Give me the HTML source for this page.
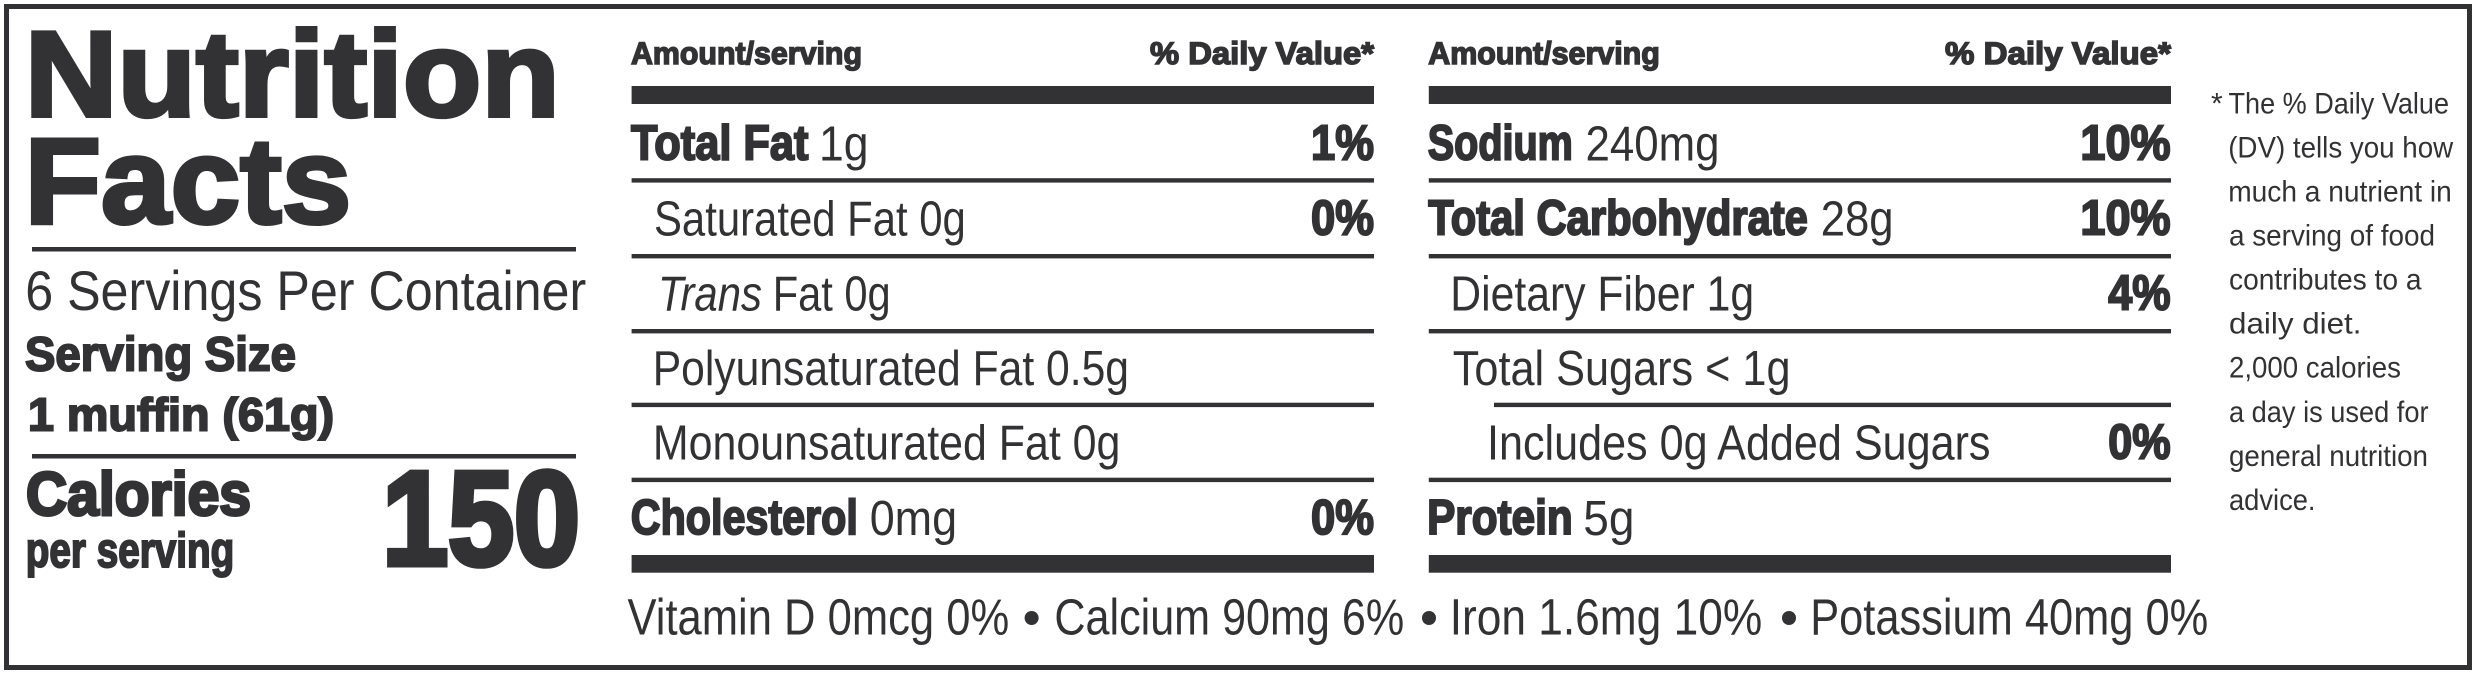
<!DOCTYPE html>
<html>
<head>
<meta charset="utf-8">
<style>
  html, body { margin:0; padding:0; background:#ffffff; }
  body { width:2477px; height:675px; overflow:hidden; }
  svg { display:block; }
  text { font-family:"Liberation Sans", Arial, sans-serif; fill:#323234; white-space:pre; }
  .b { font-weight:bold; stroke:#323234; stroke-width:2; stroke-linejoin:miter; }
  .i { font-style:italic; }
</style>
</head>
<body>
<svg width="2477" height="675" viewBox="0 0 2477 675" xmlns="http://www.w3.org/2000/svg">
  <!-- outer border -->
  <rect x="6.5" y="6.5" width="2463" height="661" fill="none" stroke="#323234" stroke-width="5"/>

  <!-- LEFT PANEL -->
  <text class="b" style="stroke-width:4" x="24.8" y="116" font-size="121.5" textLength="535" lengthAdjust="spacingAndGlyphs">Nutrition</text>
  <text class="b" style="stroke-width:4" x="24.7" y="223" font-size="121.5" textLength="326.6" lengthAdjust="spacingAndGlyphs">Facts</text>
  <rect x="32" y="247" width="544" height="4.5" fill="#323234"/>
  <text x="25.2" y="310" font-size="56" textLength="561" lengthAdjust="spacingAndGlyphs">6 Servings Per Container</text>
  <text class="b" x="25" y="370.7" font-size="48.5" textLength="271" lengthAdjust="spacingAndGlyphs">Serving Size</text>
  <text class="b" x="28" y="430.7" font-size="46" textLength="306" lengthAdjust="spacingAndGlyphs">1 muffin (61g)</text>
  <rect x="32" y="454" width="544" height="4.5" fill="#323234"/>
  <text class="b" style="stroke-width:3" x="26" y="515" font-size="61" textLength="225" lengthAdjust="spacingAndGlyphs">Calories</text>
  <text class="b" x="25.8" y="567" font-size="49" textLength="208.5" lengthAdjust="spacingAndGlyphs">per serving</text>
  <text class="b" style="stroke-width:6" x="382.3" y="564.5" font-size="133.6" textLength="197.6" lengthAdjust="spacingAndGlyphs">150</text>

  <!-- MIDDLE COLUMN -->
  <text class="b" style="stroke-width:1.5" x="631" y="64" font-size="31.7" textLength="231" lengthAdjust="spacingAndGlyphs">Amount/serving</text>
  <text class="b" style="stroke-width:1.5" x="1150" y="64" font-size="31.7" textLength="224" lengthAdjust="spacingAndGlyphs">% Daily Value*</text>
  <rect x="631.6" y="86" width="742.4" height="18" fill="#323234"/>

  <text class="b" x="631" y="159.5" font-size="49" textLength="177.5" lengthAdjust="spacingAndGlyphs">Total Fat</text>
  <text x="819" y="160.5" font-size="49" textLength="49.5" lengthAdjust="spacingAndGlyphs">1g</text>
  <text class="b" x="1311" y="159.5" font-size="49" textLength="63" lengthAdjust="spacingAndGlyphs">1%</text>
  <rect x="631.6" y="178.2" width="742.4" height="4.4" fill="#323234"/>

  <text x="654" y="235.5" font-size="49" textLength="311.8" lengthAdjust="spacingAndGlyphs">Saturated Fat 0g</text>
  <text class="b" x="1311" y="234.5" font-size="49" textLength="63" lengthAdjust="spacingAndGlyphs">0%</text>
  <rect x="631.6" y="254" width="742.4" height="4.4" fill="#323234"/>

  <text class="i" x="658" y="310.5" font-size="49" textLength="104" lengthAdjust="spacingAndGlyphs">Trans</text>
  <text x="772.7" y="310.5" font-size="49" textLength="118" lengthAdjust="spacingAndGlyphs">Fat 0g</text>
  <rect x="631.6" y="329" width="742.4" height="4.4" fill="#323234"/>

  <text x="652.7" y="385" font-size="49" textLength="476.3" lengthAdjust="spacingAndGlyphs">Polyunsaturated Fat 0.5g</text>
  <rect x="631.6" y="402.7" width="742.4" height="4.4" fill="#323234"/>

  <text x="652.9" y="459.5" font-size="49" textLength="467.5" lengthAdjust="spacingAndGlyphs">Monounsaturated Fat 0g</text>
  <rect x="631.6" y="477.7" width="742.4" height="4.4" fill="#323234"/>

  <text class="b" x="630.8" y="534" font-size="49" textLength="227" lengthAdjust="spacingAndGlyphs">Cholesterol</text>
  <text x="869.7" y="535" font-size="49" textLength="87.4" lengthAdjust="spacingAndGlyphs">0mg</text>
  <text class="b" x="1311" y="534" font-size="49" textLength="63" lengthAdjust="spacingAndGlyphs">0%</text>
  <rect x="631.6" y="555" width="742.4" height="17.7" fill="#323234"/>

  <!-- RIGHT COLUMN -->
  <text class="b" style="stroke-width:1.5" x="1428.3" y="64" font-size="31.7" textLength="231.5" lengthAdjust="spacingAndGlyphs">Amount/serving</text>
  <text class="b" style="stroke-width:1.5" x="1945" y="64" font-size="31.7" textLength="226" lengthAdjust="spacingAndGlyphs">% Daily Value*</text>
  <rect x="1428.8" y="86" width="742.2" height="18" fill="#323234"/>

  <text class="b" x="1427.8" y="159.5" font-size="49" textLength="145" lengthAdjust="spacingAndGlyphs">Sodium</text>
  <text x="1585.5" y="160.5" font-size="49" textLength="134" lengthAdjust="spacingAndGlyphs">240mg</text>
  <text class="b" x="2080.4" y="159.5" font-size="49" textLength="90.2" lengthAdjust="spacingAndGlyphs">10%</text>
  <rect x="1428.8" y="178.2" width="742.2" height="4.4" fill="#323234"/>

  <text class="b" x="1428.3" y="234.5" font-size="49" textLength="379.6" lengthAdjust="spacingAndGlyphs">Total Carbohydrate</text>
  <text x="1820.7" y="235.5" font-size="49" textLength="72.8" lengthAdjust="spacingAndGlyphs">28g</text>
  <text class="b" x="2080.4" y="234.5" font-size="49" textLength="90.2" lengthAdjust="spacingAndGlyphs">10%</text>
  <rect x="1428.8" y="254" width="742.2" height="4.4" fill="#323234"/>

  <text x="1450.3" y="310.5" font-size="49" textLength="303.8" lengthAdjust="spacingAndGlyphs">Dietary Fiber 1g</text>
  <text class="b" x="2108.3" y="309.5" font-size="49" textLength="62.3" lengthAdjust="spacingAndGlyphs">4%</text>
  <rect x="1428.8" y="329" width="742.2" height="4.4" fill="#323234"/>

  <text x="1452.8" y="385" font-size="49" textLength="337.7" lengthAdjust="spacingAndGlyphs">Total Sugars &lt; 1g</text>
  <rect x="1494" y="402.7" width="677" height="4.4" fill="#323234"/>

  <text x="1487" y="459.5" font-size="49" textLength="503.5" lengthAdjust="spacingAndGlyphs">Includes 0g Added Sugars</text>
  <text class="b" x="2108.2" y="458.5" font-size="49" textLength="62.4" lengthAdjust="spacingAndGlyphs">0%</text>
  <rect x="1428.8" y="477.7" width="742.2" height="4.4" fill="#323234"/>

  <text class="b" x="1427.1" y="534" font-size="49" textLength="145.6" lengthAdjust="spacingAndGlyphs">Protein</text>
  <text x="1583.3" y="535" font-size="49" textLength="51.2" lengthAdjust="spacingAndGlyphs">5g</text>
  <rect x="1428.8" y="555" width="742.2" height="17.7" fill="#323234"/>

  <!-- VITAMIN LINE -->
  <text x="627.5" y="634.5" font-size="51" textLength="381.7" lengthAdjust="spacingAndGlyphs">Vitamin D 0mcg 0%</text>
  <circle cx="1031.6" cy="618" r="7" fill="#323234"/>
  <text x="1054.4" y="634.5" font-size="51" textLength="349.8" lengthAdjust="spacingAndGlyphs">Calcium 90mg 6%</text>
  <circle cx="1429" cy="618" r="7" fill="#323234"/>
  <text x="1449.7" y="634.5" font-size="51" textLength="312.5" lengthAdjust="spacingAndGlyphs">Iron 1.6mg 10%</text>
  <circle cx="1789" cy="618" r="7" fill="#323234"/>
  <text x="1810.2" y="634.5" font-size="51" textLength="398" lengthAdjust="spacingAndGlyphs">Potassium 40mg 0%</text>

  <!-- FOOTNOTE -->
  <text x="2211" y="113.3" font-size="30">*</text>
  <text x="2228.5" y="113.3" font-size="30" textLength="220.5" lengthAdjust="spacingAndGlyphs">The % Daily Value</text>
  <text x="2228.2" y="157.4" font-size="30" textLength="225" lengthAdjust="spacingAndGlyphs">(DV) tells you how</text>
  <text x="2228.2" y="201.4" font-size="30" textLength="223.6" lengthAdjust="spacingAndGlyphs">much a nutrient in</text>
  <text x="2229" y="245.5" font-size="30" textLength="206" lengthAdjust="spacingAndGlyphs">a serving of food</text>
  <text x="2229" y="289.6" font-size="30" textLength="192.5" lengthAdjust="spacingAndGlyphs">contributes to a</text>
  <text x="2229" y="333.7" font-size="30" textLength="132.5" lengthAdjust="spacingAndGlyphs">daily diet.</text>
  <text x="2229" y="377.7" font-size="30" textLength="172" lengthAdjust="spacingAndGlyphs">2,000 calories</text>
  <text x="2229" y="421.8" font-size="30" textLength="199.5" lengthAdjust="spacingAndGlyphs">a day is used for</text>
  <text x="2229" y="465.9" font-size="30" textLength="199" lengthAdjust="spacingAndGlyphs">general nutrition</text>
  <text x="2229" y="510" font-size="30" textLength="86.5" lengthAdjust="spacingAndGlyphs">advice.</text>
</svg>
</body>
</html>
